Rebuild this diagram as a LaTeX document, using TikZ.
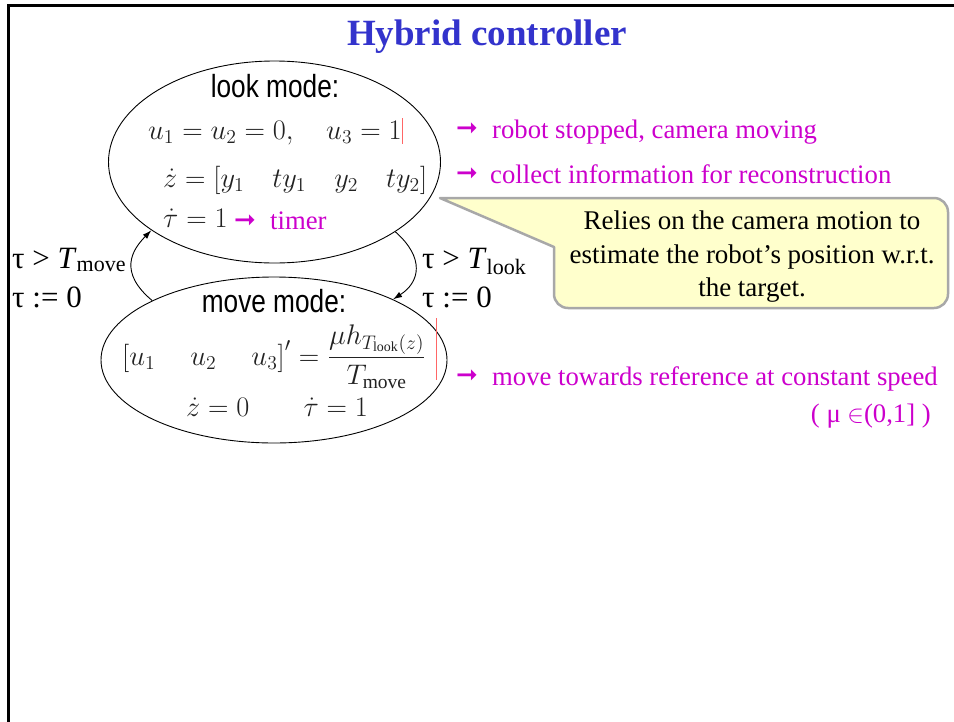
\documentclass[tikz,border=0pt]{standalone}
\usepackage{amsmath}
\usepackage{graphicx}
\usepackage{fontspec}
\setmainfont{Liberation Serif}
\newfontfamily\narrowsans[FakeStretch=0.82]{Liberation Sans}
\newfontfamily\dejavu{DejaVu Sans}
\usetikzlibrary{shapes.geometric,arrows.meta}
\definecolor{titleblue}{HTML}{3333CC}
\definecolor{mag}{HTML}{CC00CC}
\definecolor{mathgray}{HTML}{222222}
\definecolor{callfill}{HTML}{FFFFCC}
\definecolor{callborder}{HTML}{A8A8A8}
\definecolor{redmark}{HTML}{FF6666}
\newcommand{\bigmath}[2][1.64]{\scalebox{#1}{#2}}
\tikzset{
  mode/.style={draw=black, line width=0.9pt, ellipse, inner sep=0pt},
  modetitle/.style={font=\narrowsans\fontsize{32}{36}\selectfont, inner sep=0pt},
  mathtxt/.style={text=mathgray, font=\fontsize{17}{20}\selectfont, inner sep=0pt},
  note/.style={text=mag, font=\fontsize{26.7}{30}\selectfont, inner sep=0pt},
  arrowmark/.style={text=mag, font=\dejavu\fontsize{26}{28}\selectfont, inner sep=0pt},
  guard/.style={font=\fontsize{31}{34}\selectfont, inner sep=0pt},
  trans/.style={line width=0.9pt, -{Latex[length=9pt,width=6pt]}},
  calltext/.style={font=\fontsize{27}{33.5}\selectfont, align=center, inner sep=0pt}
}
\begin{document}
\begin{tikzpicture}[x=1pt,y=-1pt]
\useasboundingbox (0,0) rectangle (954,721);
% slide frame
\coordinate (frTR) at (954,5);
\coordinate (frTL) at (8,5);
\coordinate (frBL) at (8,721);
\draw[line width=3pt, line cap=rect] (frTR) -- (frTL) -- (frBL);

% title
\node[text=titleblue, font=\bfseries\fontsize{37}{40}\selectfont, anchor=base, inner sep=0pt] (title) at (487,45) {Hybrid controller};

% mode ellipses
\node[mode, minimum width=332pt, minimum height=202pt] (look) at (274.5,162) {};
\node[mode, minimum width=346pt, minimum height=166pt] (move) at (274,360) {};

% look mode contents
\node[modetitle, anchor=base] (looklbl) at (275,97) {look mode:};
\node[mathtxt, anchor=base west] (l1) at (148,139) {\bigmath{$u_1=u_2=0,\quad u_3=1$}};
\node[mathtxt, anchor=base west] (l2) at (163,187) {\bigmath{$\dot z=\left[y_1\quad ty_1\quad y_2\quad ty_2\right]$}};
\node[mathtxt, anchor=base west] (l3) at (163,227) {\bigmath{$\dot\tau=1$}};
\node[arrowmark, anchor=west] (a0) at (234,222) {➞};
\node[note, anchor=base west] (timer) at (270,229) {timer};
\coordinate (r1t) at (402,118);
\coordinate (r1b) at (402,144);
\draw[redmark, line width=0.8pt] (r1t) -- (r1b);

% move mode contents
\node[modetitle, anchor=base] (movelbl) at (274,312) {move mode:};
\node[mathtxt, anchor=base west] (m1) at (122,365) {\bigmath{$\left[u_1\hspace{1.25em}u_2\hspace{1.25em}u_3\right]'=\dfrac{\mu h_{T_{\mathrm{look}}(z)}}{T_{\mathrm{move}}}$}};
\node[mathtxt, anchor=base west] (m2) at (186,416) {\bigmath{$\dot z=0\hspace{33pt}\dot\tau=1$}};
\coordinate (r2t) at (436,318);
\coordinate (r2b) at (436,380);
\draw[redmark, line width=0.8pt] (r2t) -- (r2b);

% transitions
\draw[trans] (move.154) .. controls (118,272) and (132,250) .. (look.209);
\draw[trans] (look.330) .. controls (425,258) and (420,282) .. (move.27);

% guards
\node[guard, anchor=base west] (g1) at (12,268) {τ > \textit{T}\textsubscript{\fontsize{22}{24}\selectfont move}};
\node[guard, anchor=base west] (g2) at (12,307) {τ := 0};
\node[guard, anchor=base west] (g3) at (422,268) {τ > \textit{T}\textsubscript{\fontsize{22}{24}\selectfont look}};
\node[guard, anchor=base west] (g4) at (422,307) {τ := 0};

% notes
\node[arrowmark, anchor=west] (a1) at (456,130) {➞};
\node[note, anchor=base west] (n1) at (492,138) {robot stopped, camera moving};
\node[arrowmark, anchor=west] (a2) at (456,175) {➞};
\node[note, anchor=base west] (n2) at (490,183) {collect information for reconstruction};
\node[arrowmark, anchor=west] (a3) at (456,377) {➞};
\node[note, anchor=base west] (n3) at (492,385) {move towards reference at constant speed};
\node[note, anchor=base east] (n4) at (931,422) {( μ $\in$(0,1] )};

% callout
\coordinate (tip) at (440,198);
\draw[fill=callfill, draw=callborder, line width=2.5pt, line join=round]
  (tip) -- (554,247) [rounded corners=14pt] -- (554,308) -- (948,308) -- (948,198) -- (580,198) [sharp corners] -- cycle;
\node[calltext] (calltxt) at (752,257) {Relies on the camera motion to\\estimate the robot’s position w.r.t.\\the target.};
\end{tikzpicture}
\end{document}
